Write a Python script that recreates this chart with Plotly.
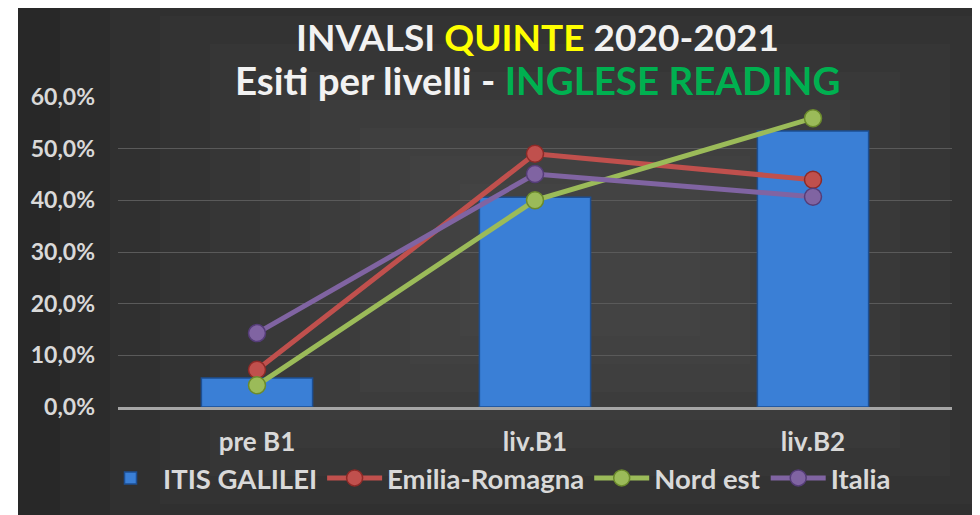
import plotly.graph_objects as go

categories = ["pre B1", "liv.B1", "liv.B2"]
itis_galilei = [0.056, 0.406, 0.534]
emilia_romagna = [0.072, 0.490, 0.440]
nord_est = [0.042, 0.400, 0.559]
italia = [0.143, 0.451, 0.407]
y_ticks = [0, 0.1, 0.2, 0.3, 0.4, 0.5, 0.6]

FONT = "Lato"
OFF = 8  # default body margin of the html page
FW, FH = 980 - OFF, 515 - OFF

fig = go.Figure()

fig.add_trace(go.Bar(
    x=categories, y=itis_galilei, name="ITIS GALILEI", width=0.4,
    marker=dict(color="#3a7fd6", line=dict(color="#1d4f93", width=1.5)),
))
line_series = [
    ("Emilia-Romagna", emilia_romagna, "#c0504d", "#8e2a27"),
    ("Nord est", nord_est, "#9bbb59", "#6b8a2c"),
    ("Italia", italia, "#8064a2", "#553d78"),
]
for name, vals, col, edge in line_series:
    fig.add_trace(go.Scatter(
        x=categories, y=vals, name=name, mode="lines+markers",
        line=dict(color=col, width=5),
        marker=dict(size=17, color=col, line=dict(color=edge, width=1.5)),
    ))

# plot area in page pixels: x 118..952, y 97..407
L, R, T, B = 118 - OFF, 980 - 952, 97 - OFF, 515 - 407
W, H = FW - L - R, FH - T - B

def px2paper(x, y):
    # page pixel -> paper coords
    return (x - OFF - L) / W, (FH - B - (y - OFF)) / H

shapes = []
x0, y0 = px2paper(18, 515)
x1, y1 = px2paper(980, 7)
shapes.append(dict(type="rect", xref="paper", yref="paper", x0=x0, y0=y0, x1=x1, y1=y1,
                   fillcolor="#282828", line=dict(width=0), layer="below"))
cx, cy = 580, 260
for i in range(9):
    hw = 520 - i * 50
    hh = 300 - i * 28
    a0, b0 = px2paper(max(18, cx - hw), min(515, cy + hh))
    a1, b1 = px2paper(min(980, cx + hw), max(7, cy - hh))
    shapes.append(dict(type="rect", xref="paper", yref="paper", x0=a0, y0=b0, x1=a1, y1=b1,
                       fillcolor="#6a6a6a", opacity=0.065, line=dict(width=0), layer="below"))

tx = px2paper(537, 0)[0]
fig.update_layout(
    width=FW, height=FH,
    margin=dict(l=L, r=R, t=T, b=B, autoexpand=False),
    paper_bgcolor="white", plot_bgcolor="rgba(0,0,0,0)",
    separators=",.",
    shapes=shapes,
    font=dict(family=FONT, color="#d9d9d9", size=19),
    showlegend=True,
    legend=dict(orientation="h", x=px2paper(497, 0)[0], xanchor="center",
                y=px2paper(0, 478)[1], yanchor="middle",
                font=dict(family=FONT, size=27.5, color="#d9d9d9", weight="bold"),
                bgcolor="rgba(0,0,0,0)", itemwidth=55, tracegroupgap=0),
    annotations=[
        dict(xref="paper", yref="paper", x=tx, y=px2paper(0, 37)[1],
             text="INVALSI <span style='color:#ffff00'>QUINTE</span> 2020-2021",
             showarrow=False, font=dict(family=FONT, size=37, color="#f2f2f2", weight="bold"),
             xanchor="center", yanchor="middle"),
        dict(xref="paper", yref="paper", x=tx, y=px2paper(0, 80)[1],
             text="Esiti per livelli - <span style='color:#00b050'>INGLESE READING</span>",
             showarrow=False, font=dict(family=FONT, size=38.5, color="#f2f2f2", weight="bold"),
             xanchor="center", yanchor="middle"),
    ],
)
fig.update_yaxes(range=[0, 0.6], tickvals=y_ticks, tickformat=".1%",
                 showgrid=True, gridcolor="#5a5a5a", gridwidth=1,
                 zeroline=False, showline=False, ticks="",
                 ticklabelstandoff=22,
                 tickfont=dict(family=FONT, size=23, color="#d9d9d9", weight="bold"))
fig.update_xaxes(showgrid=False, showline=True, linecolor="#a6a6a6", linewidth=3,
                 ticks="", ticklabelstandoff=10,
                 tickfont=dict(family=FONT, size=26, color="#d9d9d9", weight="bold"))

fig.write_html("out.html")
